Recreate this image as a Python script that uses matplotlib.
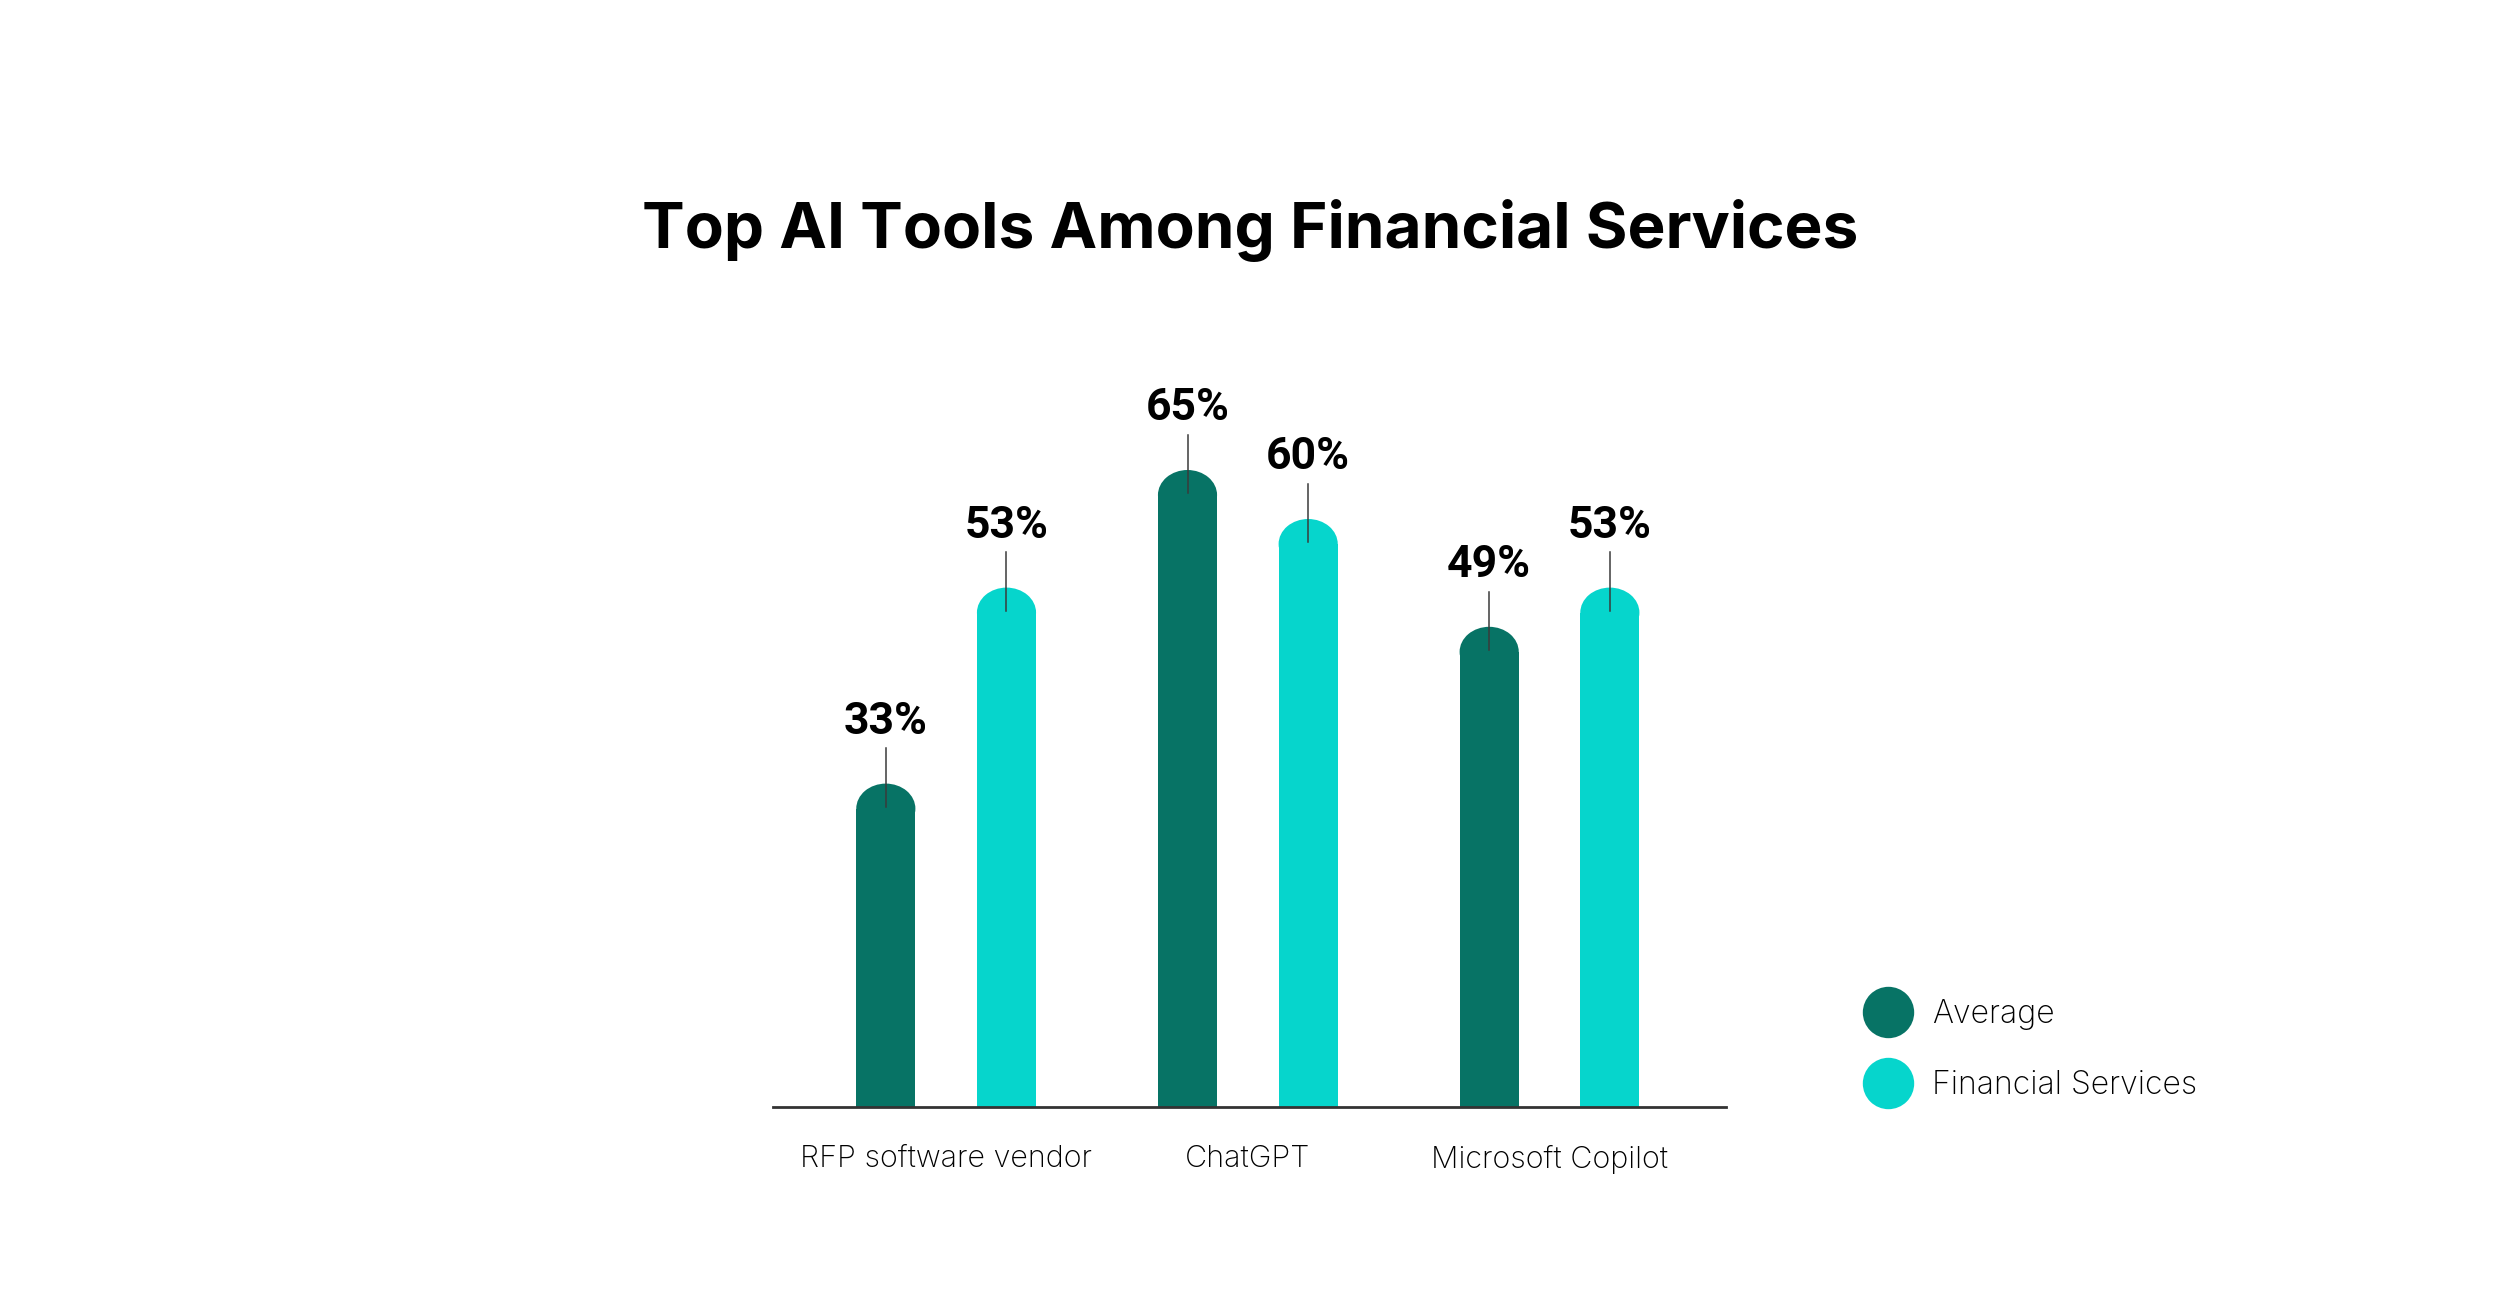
import matplotlib
matplotlib.use("Agg")
import matplotlib.pyplot as plt
from matplotlib.patches import Ellipse
from matplotlib.lines import Line2D

# data
tools = ["RFP software vendor", "ChatGPT", "Microsoft Copilot"]
average = [33, 65, 49]
financial = [53, 60, 53]
series_names = ["Average", "Financial Services"]
colors = ["#077365", "#06D5CC"]

W, H = 2500, 1313
fig = plt.figure(figsize=(W / 100, H / 100), dpi=100)
fig.patch.set_facecolor("white")

# axes placed so that 1 unit on y = 9.8 px
ax = fig.add_axes([773 / W, 206 / H, 953 / W, 784 / H])
ax.set_xlim(-0.574, 2.585)
ax.set_ylim(0, 80)

bar_w = 0.196
offs = [-0.2, 0.2]
cap = 25 / 9.8  # half-height of the rounded top, in data units

for k, vals in enumerate([average, financial]):
    xs = [i + offs[k] for i in range(len(tools))]
    ax.bar(xs, [v - cap for v in vals], width=bar_w, color=colors[k], linewidth=0)
    for x, v in zip(xs, vals):
        ax.add_patch(Ellipse((x, v - cap), bar_w, 2 * cap, color=colors[k], lw=0))
        ax.plot([x, x], [v - 2.35, v + 3.6], color="#3a3a3a", lw=1.1, zorder=5)
        ax.text(x, v + 5.1, f"{v}%", ha="center", va="baseline",
                fontsize=32, fontweight="bold", family="Roboto", clip_on=False)

for s in ["top", "right", "left"]:
    ax.spines[s].set_visible(False)
ax.spines["bottom"].set_color("#333333")
ax.spines["bottom"].set_linewidth(2)
ax.set_yticks([])
ax.set_xticks(range(len(tools)))
ax.set_xticklabels(tools, fontsize=22, family="Inter", fontweight="light", color="black")
ax.tick_params(axis="x", length=0, pad=27)

fig.text(0.5, (H - 248) / H, "Top AI Tools Among Financial Services",
         ha="center", va="baseline", fontsize=46, fontweight="bold", family="Inter")

handles = [Line2D([], [], ls="", marker="o", ms=37, color=c, markeredgewidth=0) for c in colors]
fig.legend(handles, series_names, loc="center left",
           bbox_to_anchor=(1843 / W, (H - 1050) / H), frameon=False,
           prop={"family": "Inter", "weight": "light", "size": 23},
           labelspacing=1.25, handletextpad=0.4, borderaxespad=0)

fig.savefig("out.png", dpi=100, facecolor="white")
